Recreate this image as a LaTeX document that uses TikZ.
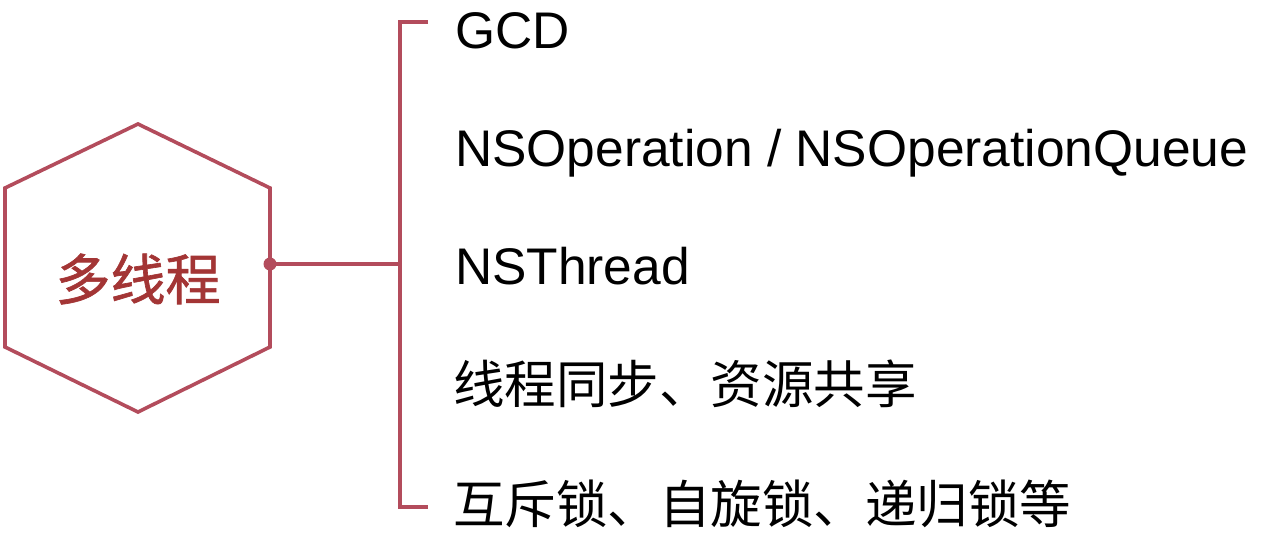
\documentclass[tikz,border=0pt]{standalone}
\usepackage{fontspec}
\usepackage{xcolor}
\setmainfont{Liberation Sans}
\newfontfamily\cjk{Noto Sans CJK SC}
\newfontfamily\cjkmid[FakeBold=1.2]{Noto Sans CJK SC}
\definecolor{hexred}{HTML}{B34C5C}
\definecolor{labelred}{HTML}{A33535}

\begin{document}
\begin{tikzpicture}[x=1pt, y=-1pt,
    item/.style={anchor=base west, inner sep=0pt, font=\fontsize{51.5}{60}\selectfont},
    link/.style={draw=hexred, line width=3.6pt}]
    \useasboundingbox (0,0) rectangle (1262,554);
    % Hexagon
    \draw [link, fill=white] (138,124) -- (270,188) -- (270,347) -- (138,412)
      -- (5,347) -- (5,188) -- cycle;
    \node (topic) at (138,279) [inner sep=0pt, text=labelred,
      font=\cjkmid\fontsize{55}{60}\selectfont] {多线程};
    \coordinate (hexE) at (270,264);
    \coordinate (brace) at (400,264);
    \coordinate (braceTop) at (400,22);
    \coordinate (braceBot) at (400,507);

    % Items
    \node (item1) at (455,48) [item] {GCD};
    \node (item2) at (455,166) [item] {NSOperation / NSOperationQueue};
    \node (item3) at (455,284) [item] {NSThread};
    \node (item4) at (453,403) [item, font=\cjk\fontsize{51.5}{60}\selectfont]
      {线程同步、资源共享};
    \node (item5) at (453,523) [item, font=\cjk\fontsize{51.5}{60}\selectfont]
      {互斥锁、自旋锁、递归锁等};

    % Links
    \draw [link] (hexE) -- (brace);
    \draw [link, line join=miter] (428,22) -- (braceTop) -- (braceBot) -- (428,507);
    \fill [hexred] (hexE) circle (6.5);
  \end{tikzpicture}
\end{document}
